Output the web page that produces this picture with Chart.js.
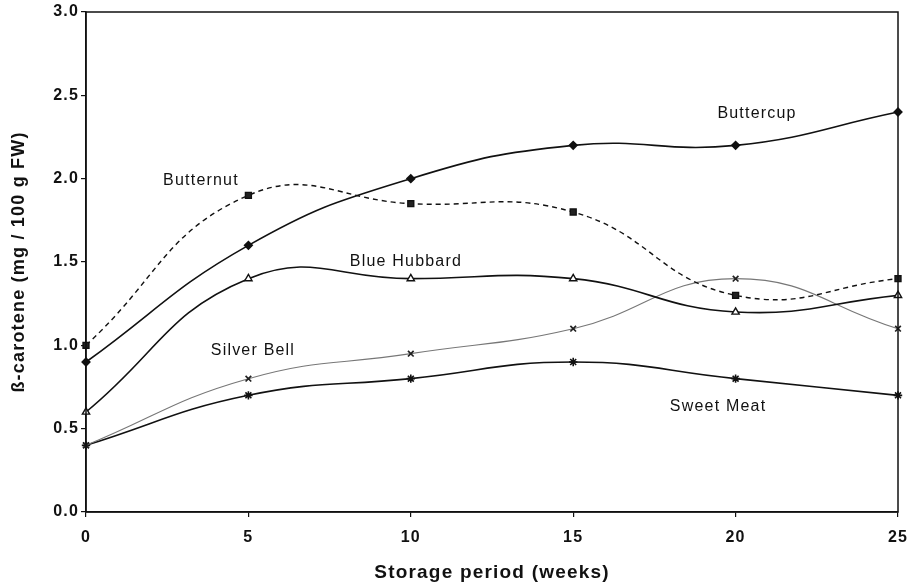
<!DOCTYPE html>
<html><head><meta charset="utf-8">
<script src="https://cdn.jsdelivr.net/npm/chart.js@4/dist/chart.umd.min.js"></script>
<style>html,body{margin:0;padding:0;background:#fff}#wrap{width:912px;height:586px}</style>
</head><body><div id="wrap"><canvas id="c" width="912" height="586"></canvas></div>
<script>
const weeks = [0, 5, 10, 15, 20, 25];
const buttercup = [0.9, 1.6, 2.0, 2.2, 2.2, 2.4];
const butternut = [1.0, 1.9, 1.85, 1.8, 1.3, 1.4];
const blueHubbard = [0.6, 1.4, 1.4, 1.4, 1.2, 1.3];
const silverBell = [0.4, 0.8, 0.95, 1.1, 1.4, 1.1];
const sweetMeat = [0.4, 0.7, 0.8, 0.9, 0.8, 0.7];
const yTicks = [0, 0.5, 1.0, 1.5, 2.0, 2.5, 3.0];
const xTicks = [0, 5, 10, 15, 20, 25];
const seriesLabels = [
  {text: 'Buttercup', x: 20.66, y: 2.39},
  {text: 'Butternut', x: 3.54, y: 1.99},
  {text: 'Blue Hubbard', x: 9.85, y: 1.50},
  {text: 'Silver Bell', x: 5.14, y: 0.97},
  {text: 'Sweet Meat', x: 19.46, y: 0.635}
];

const mk = (arr) => weeks.map((w, i) => ({x: w, y: arr[i]}));
const FONT = "'Liberation Sans', Arial, sans-serif";
const LS = '1.2px';

const frame = {
  id: 'frame',
  beforeLayout(chart) { chart.ctx.letterSpacing = LS; },
  beforeDraw(chart) { chart.ctx.letterSpacing = LS; },
  afterDatasetsDraw(chart) {
    const {ctx, chartArea: a} = chart;
    ctx.save();
    ctx.strokeStyle = '#111';
    ctx.lineWidth = 1.5;
    ctx.strokeRect(a.left, a.top, a.right - a.left, a.bottom - a.top);
    ctx.restore();
  },
  afterDraw(chart) {
    const {ctx, scales} = chart;
    ctx.save();
    ctx.letterSpacing = LS;
    ctx.fillStyle = '#111';
    ctx.font = '16px ' + FONT;
    ctx.textAlign = 'center';
    ctx.textBaseline = 'middle';
    seriesLabels.forEach(l => {
      ctx.fillText(l.text, scales.x.getPixelForValue(l.x), scales.y.getPixelForValue(l.y));
    });
    ctx.restore();
  }
};

new Chart(document.getElementById('c'), {
  type: 'line',
  data: {
    datasets: [
      {label: 'Buttercup', data: mk(buttercup), borderColor: '#111', borderWidth: 1.6,
       pointStyle: 'rectRot', pointRadius: 3.8, pointBackgroundColor: '#111', pointBorderColor: '#111'},
      {label: 'Butternut', data: mk(butternut), borderColor: '#111', borderWidth: 1.4, borderDash: [5, 4],
       pointStyle: 'rect', pointRadius: 4.2, pointBackgroundColor: '#222', pointBorderColor: '#111'},
      {label: 'Blue Hubbard', data: mk(blueHubbard), borderColor: '#111', borderWidth: 1.6,
       pointStyle: 'triangle', pointRadius: 4.2, pointBackgroundColor: '#fff', pointBorderColor: '#111', pointBorderWidth: 1.4},
      {label: 'Silver Bell', data: mk(silverBell), borderColor: '#777', borderWidth: 1.1,
       pointStyle: 'crossRot', pointRadius: 4, pointBorderColor: '#222', pointBorderWidth: 1.7},
      {label: 'Sweet Meat', data: mk(sweetMeat), borderColor: '#111', borderWidth: 1.6,
       pointStyle: 'star', pointRadius: 4.2, pointBorderColor: '#111', pointBorderWidth: 1.6}
    ]
  },
  options: {
    responsive: false,
    animation: false,
    events: [],
    layout: {padding: {left: 0, right: 14, top: 12, bottom: 0}},
    elements: {line: {tension: 0.45, fill: false}},
    clip: false,
    plugins: {legend: {display: false}, tooltip: {enabled: false}},
    scales: {
      x: {
        type: 'linear', min: 0, max: 25,
        afterBuildTicks: s => { s.ticks = xTicks.map(v => ({value: v})); },
        afterFit: s => { s.height = 74; s.paddingLeft = 0; s.paddingRight = 0; },
        grid: {display: true, drawOnChartArea: false, drawTicks: true, tickLength: 5, color: '#111', lineWidth: 1.2},
        border: {display: true, color: '#111', width: 1.5},
        ticks: {color: '#111', font: {family: FONT, size: 16, weight: 'bold'}, padding: 11, maxRotation: 0},
        title: {display: true, text: 'Storage period (weeks)', color: '#111',
                font: {family: FONT, size: 19, weight: 'bold'}, padding: {top: 10, bottom: 2}}
      },
      y: {
        min: 0, max: 3,
        afterBuildTicks: s => { s.ticks = yTicks.map(v => ({value: v})); },
        afterFit: s => { s.width = 86; s.paddingTop = 0; s.paddingBottom = 0; },
        grid: {display: true, drawOnChartArea: false, drawTicks: true, tickLength: 5, color: '#111', lineWidth: 1.2},
        border: {display: true, color: '#111', width: 1.5},
        ticks: {color: '#111', font: {family: FONT, size: 16, weight: 'bold'}, padding: 2, callback: v => Number(v).toFixed(1)},
        title: {display: true, text: 'ß-carotene (mg / 100 g FW)', color: '#111',
                font: {family: FONT, size: 18, weight: 'bold'}, padding: {top: 8, bottom: 4}}
      }
    }
  },
  plugins: [frame]
});
</script></body></html>
